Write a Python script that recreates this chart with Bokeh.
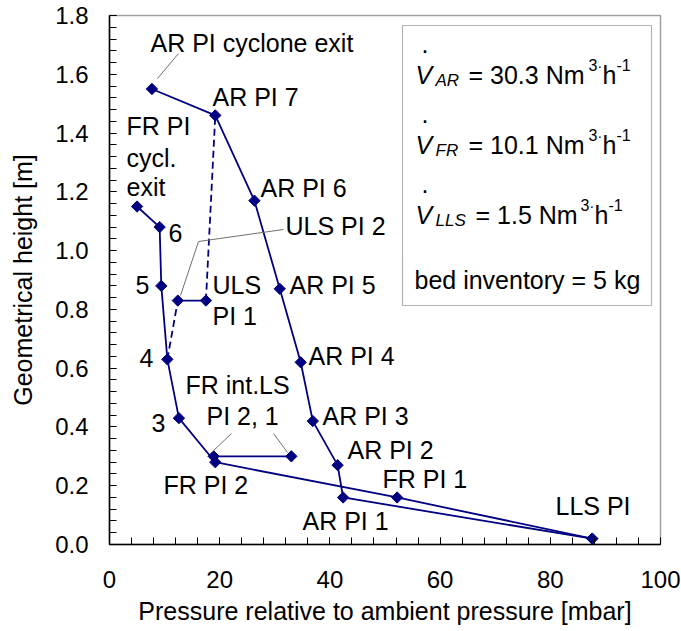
import math
from bokeh.plotting import figure
from bokeh.models import (Range1d, SingleIntervalTicker, PrintfTickFormatter,
                          Label, BoxAnnotation)
from bokeh.embed import file_html
from bokeh.resources import INLINE

# ---------------- data ----------------
ar_names = ["AR PI cyclone exit", "AR PI 7", "AR PI 6", "AR PI 5", "AR PI 4",
            "AR PI 3", "AR PI 2", "AR PI 1", "LLS PI"]
ar_pressure = [7.7, 19.2, 26.3, 30.9, 34.7, 36.9, 41.4, 42.4, 87.6]
ar_height = [1.55, 1.46, 1.17, 0.87, 0.62, 0.42, 0.27, 0.16, 0.02]

fr_names = ["FR PI cycl. exit", "6", "5", "4", "3", "FR PI 2", "FR PI 1", "LLS PI"]
fr_pressure = [5.0, 9.1, 9.4, 10.5, 12.6, 19.2, 52.2, 87.6]
fr_height = [1.15, 1.08, 0.88, 0.63, 0.43, 0.28, 0.16, 0.02]

frls_names = ["FR int.LS PI 2", "FR int.LS PI 1"]
frls_pressure = [18.9, 33.0]
frls_height = [0.30, 0.30]

uls_names = ["ULS PI 2", "ULS PI 1"]
uls_pressure = [12.4, 17.5]
uls_height = [0.83, 0.83]

flow_streams = ["AR", "FR", "LLS"]
flow_values = ["30.3", "10.1", "1.5"]
bed_inventory = "5"

x_ticks_interval = 20
y_ticks_interval = 0.2

# ---------------- styling / layout ----------------
FONT = "Liberation Sans"
FS = "25px"
TICK_FS = "24px"
NAVY = "#000080"
W, H = 681, 631
L, R, T, B = 109, 21, 15, 87
BASE_SHIFT = -8  # baseline correction for label placement

p = figure(width=W, height=H, output_backend="svg", toolbar_location=None,
           x_range=Range1d(0, 100), y_range=Range1d(0, 1.8),
           min_border_left=L, min_border_right=R, min_border_top=T,
           min_border_bottom=B)
p.background_fill_color = "white"
p.border_fill_color = "white"
p.outline_line_color = "#a0a0a0"
p.outline_line_width = 1.5
p.xgrid.visible = False
p.ygrid.visible = False

p.xaxis.ticker = SingleIntervalTicker(interval=x_ticks_interval, num_minor_ticks=5)
p.yaxis.ticker = SingleIntervalTicker(interval=y_ticks_interval, num_minor_ticks=5)
p.yaxis.formatter = PrintfTickFormatter(format="%.1f")
for ax in (p.xaxis, p.yaxis):
    ax.axis_line_color = "black"
    ax.axis_line_width = 1.5
    ax.major_tick_in = 7
    ax.major_tick_out = 0
    ax.minor_tick_in = 7
    ax.minor_tick_out = 0
    ax.major_tick_line_color = "black"
    ax.minor_tick_line_color = "black"
    ax.major_label_text_font = FONT
    ax.major_label_text_font_size = TICK_FS
    ax.major_label_text_color = "black"
    ax.axis_label_text_font = FONT
    ax.axis_label_text_font_size = FS
    ax.axis_label_text_font_style = "normal"
    ax.axis_label_text_color = "black"
p.xaxis.axis_label = "Pressure relative to ambient pressure [mbar]"
p.yaxis.axis_label = "Geometrical height [m]"
p.xaxis.major_label_standoff = 26
p.yaxis.major_label_standoff = 21
p.xaxis.axis_label_standoff = 6
p.yaxis.axis_label_standoff = 15

# pixel -> data helpers for annotation placement
X0, XS = float(L), (W - L - R) / 100.0
Y0, YS = float(H - B), (H - B - T) / 1.8


def dx(px):
    return (px - X0) / XS


def dy(py):
    return (Y0 - py) / YS


# ---------------- series ----------------
dash1_x = [fr_pressure[3], uls_pressure[0]]
dash1_y = [fr_height[3], uls_height[0]]
dash2_x = [uls_pressure[1], ar_pressure[1]]
dash2_y = [uls_height[1], ar_height[1]]
for xs, ys in ((dash1_x, dash1_y), (dash2_x, dash2_y)):
    p.line(xs, ys, line_color=NAVY, line_width=1.8, line_dash="7 4")

for xs, ys in ((ar_pressure, ar_height), (fr_pressure, fr_height),
               (frls_pressure, frls_height), (uls_pressure, uls_height)):
    p.line(xs, ys, line_color=NAVY, line_width=1.8)
    p.scatter(xs, ys, marker="square", angle=math.pi / 4, size=8,
              fill_color=NAVY, line_color=NAVY)

# leader lines (layout, in pixels)
leaders = [
    [(178, 53), (157, 78)],
    [(283, 229), (198, 241), (180, 295)],
    [(231, 433), (211, 452)],
    [(273, 433), (287, 452)],
]
for pts in leaders:
    p.line([dx(a) for a, b in pts], [dy(b) for a, b in pts],
           line_color="#707070", line_width=1)

# point labels: (text, left px, baseline px)
point_labels = [
    ("AR PI cyclone exit", 150, 50),
    ("AR PI 7", 212, 104),
    ("FR PI", 126, 133),
    ("cycl.", 126, 165),
    ("exit", 126, 194),
    ("AR PI 6", 260, 195),
    ("6", 168, 240),
    ("ULS PI 2", 285, 233),
    ("5", 135, 292),
    ("ULS", 212, 292),
    ("PI 1", 212, 323),
    ("AR PI 5", 289, 292),
    ("4", 139, 365),
    ("AR PI 4", 308, 363),
    ("FR int.LS", 185, 392),
    ("PI 2, 1", 206, 423),
    ("3", 151, 430),
    ("AR PI 3", 322, 423),
    ("AR PI 2", 347, 457),
    ("FR PI 1", 382, 486),
    ("FR PI 2", 163, 492),
    ("AR PI 1", 302, 528),
    ("LLS PI", 555, 513),
]


def put(txt, px, py, size=FS, style="normal"):
    p.add_layout(Label(x=dx(px), y=dy(py + BASE_SHIFT), text=txt, text_font=FONT,
                       text_font_size=size, text_font_style=style,
                       text_color="black", text_align="left",
                       text_baseline="alphabetic"))


for txt, px, py in point_labels:
    put(txt, px, py)

# info box
p.add_layout(BoxAnnotation(left=dx(402), right=dx(651), top=dy(25), bottom=dy(305),
                           fill_color="white", fill_alpha=1.0,
                           line_color="black", line_width=1.2))

line_base = [82, 152, 222]
eq_left = [468, 468, 475]
sup_left = [588, 588, 580]
for stream, val, b, eqx, sx in zip(flow_streams, flow_values, line_base, eq_left, sup_left):
    put(".", 421, b - 31)
    put("V", 415, b, style="italic")
    put(stream, 435, b + 6, size="17px", style="italic")
    put("= " + val + " Nm", eqx, b)
    put("3", sx, b - 10, size="16px")
    put("\u00b7", sx + 9, b - 9, size="14px")
    put("h", sx + 14, b)
    put("-1", sx + 28, b - 10, size="16px")
put("bed inventory = " + bed_inventory + " kg", 414, 287)

open("out.html", "w").write(file_html(p, INLINE))
